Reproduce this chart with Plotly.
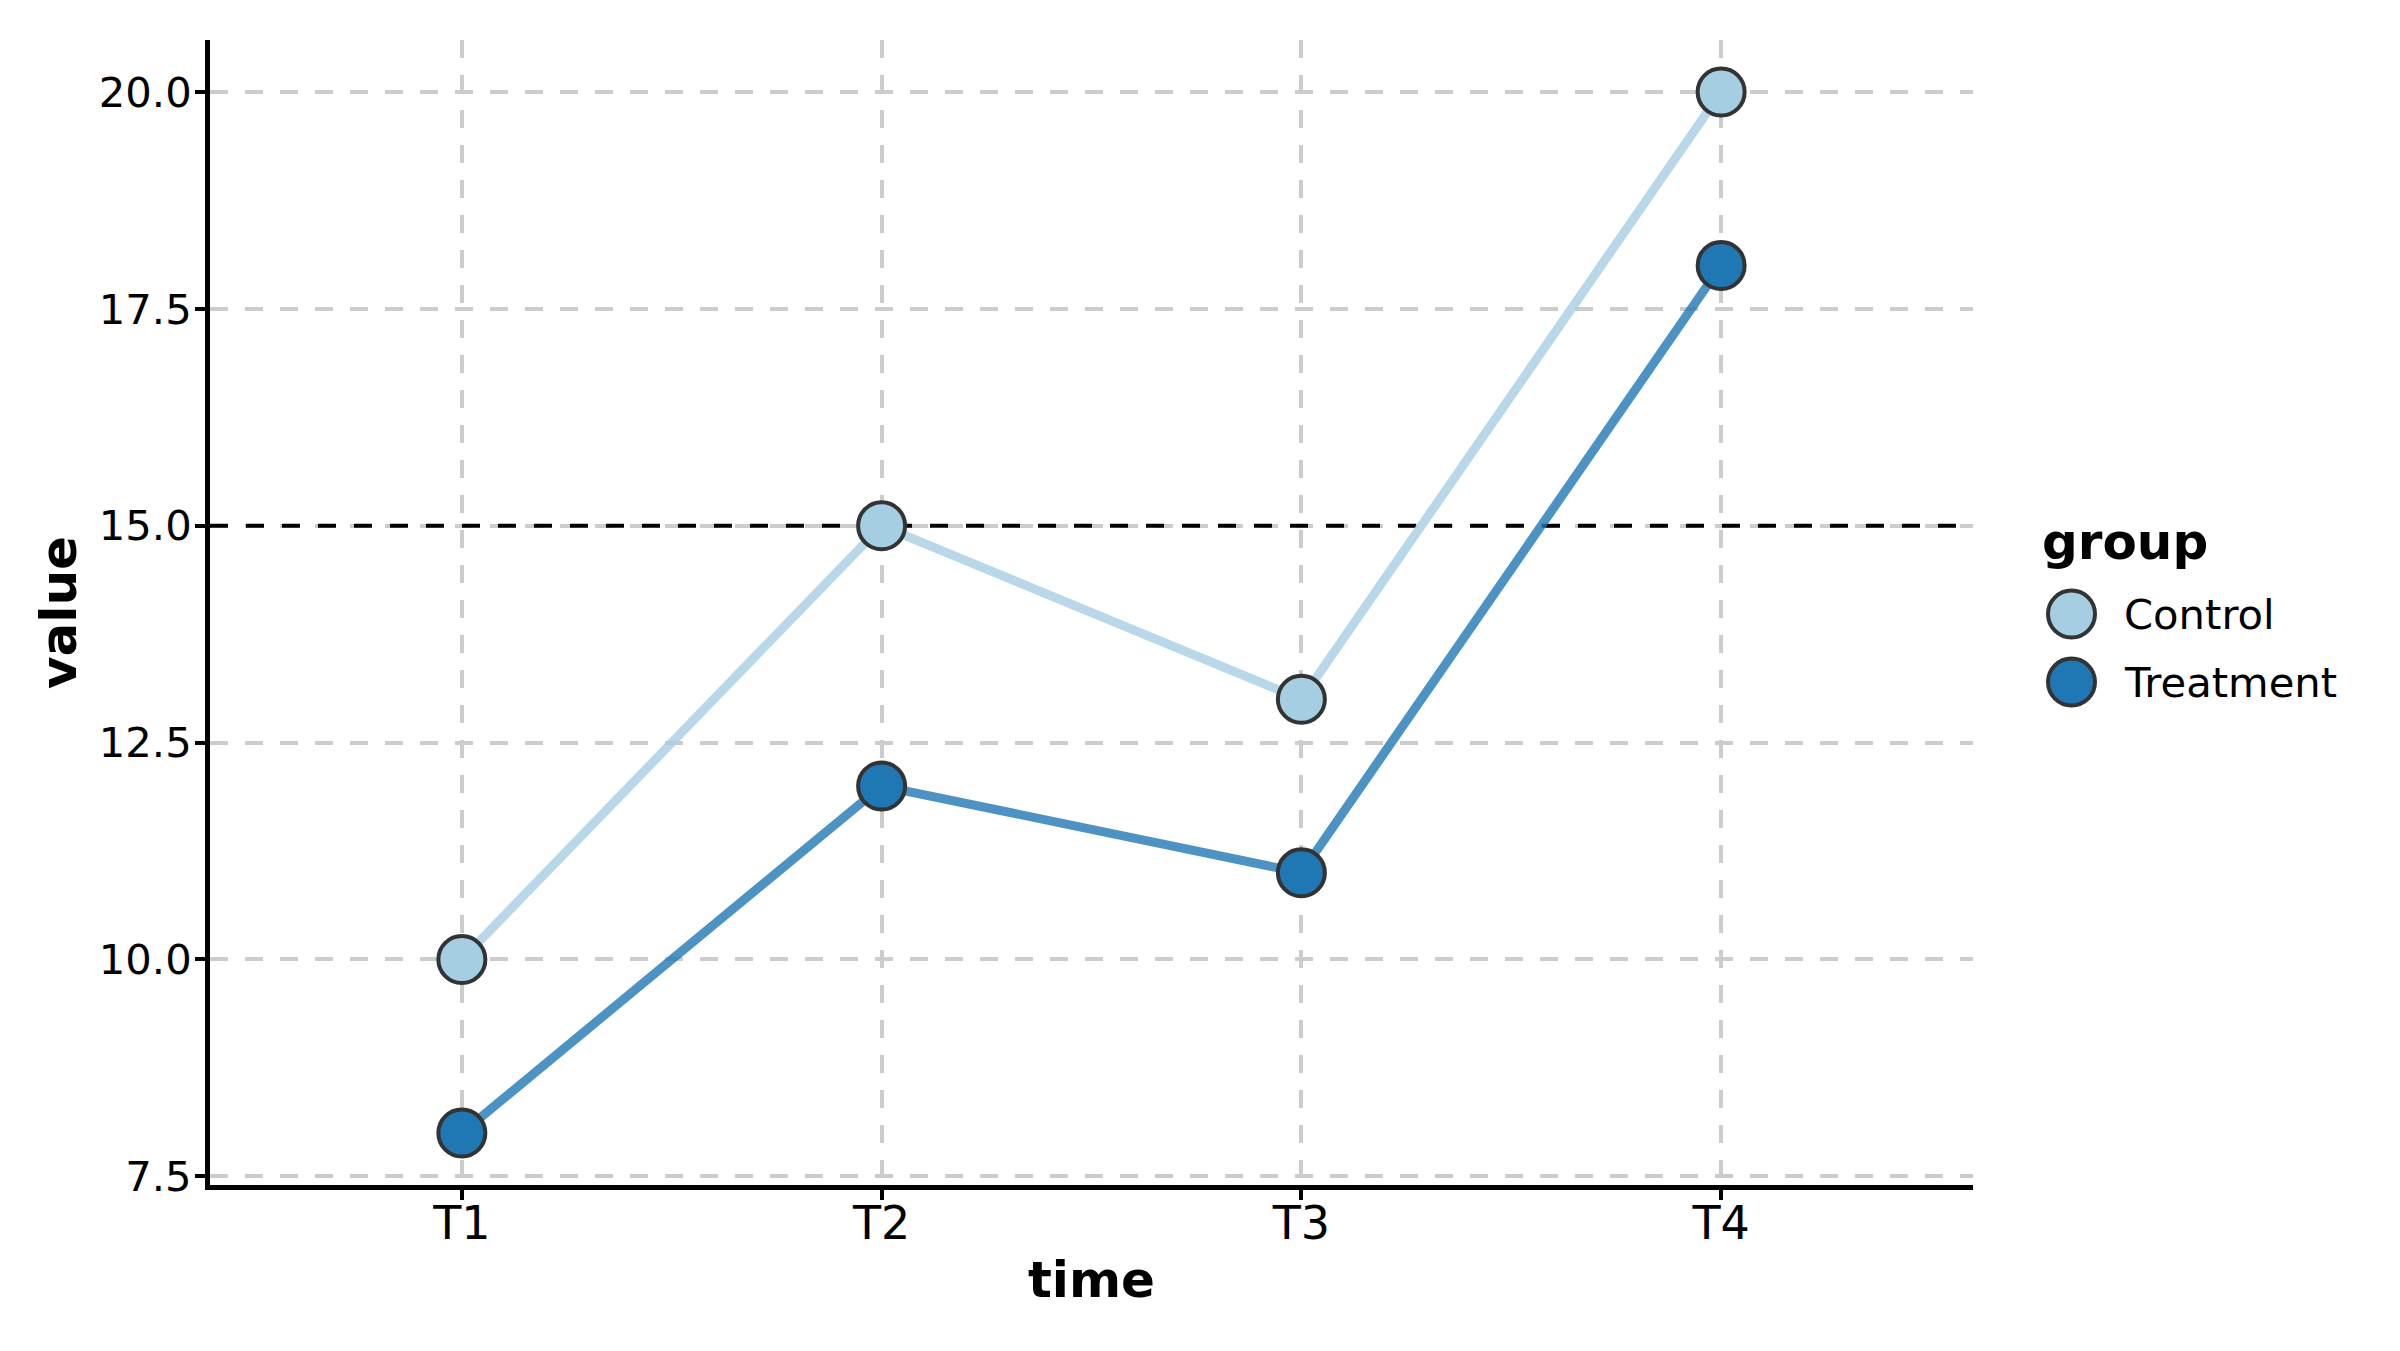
import plotly.graph_objects as go

# ---- data ----
time_points = ["T1", "T2", "T3", "T4"]
control_values = [10, 15, 13, 20]
treatment_values = [8, 12, 11, 18]
group_names = ["Control", "Treatment"]
y_tick_values = [7.5, 10.0, 12.5, 15.0, 17.5, 20.0]
reference_value = 15

# ---- style ----
FONT = "DejaVu Sans"
W, H = 2400, 1351
OFF = 8  # page body margin in the browser
ML, MR, MT, MB = 210 - OFF, 427 + OFF, 40 - OFF, 166 + OFF
X_RANGE = [-0.6, 3.6]
Y_RANGE = [7.4, 20.6]
marker_fill = ["#a6cee3", "#1f78b4"]
line_rgba = ["rgba(166,206,227,0.8)", "rgba(31,120,180,0.8)"]
edge = "#333333"
grid_color = "#cccccc"

fig = go.Figure()
for name, vals, fill, lc in zip(group_names, [control_values, treatment_values], marker_fill, line_rgba):
    fig.add_trace(go.Scatter(
        x=time_points, y=vals, name=name, mode="lines+markers",
        line=dict(color=lc, width=9),
        marker=dict(size=47, color=fill, line=dict(color=edge, width=4)),
        showlegend=False,
    ))

# reference line (between gridlines and data)
fig.add_shape(type="line", xref="x", x0=X_RANGE[0], x1=X_RANGE[1], yref="y",
              y0=reference_value, y1=reference_value,
              line=dict(color="black", width=4, dash="18px,18px"), layer="between")

axis_common = dict(
    showline=True, linecolor="black", linewidth=5,
    ticks="outside", ticklen=10, tickwidth=4, tickcolor="black",
    showgrid=True, gridcolor=grid_color, gridwidth=3.5, griddash="18px,17px",
    zeroline=False,
)

fig.update_xaxes(
    **axis_common,
    type="category", categoryorder="array", categoryarray=time_points,
    range=X_RANGE,
    tickfont=dict(family=FONT, size=46, color="black"),
    ticklabelstandoff=-16,
    title=dict(text="<b>time</b>", font=dict(family=FONT, size=50, color="black"), standoff=14),
)
fig.update_yaxes(
    **axis_common,
    range=Y_RANGE,
    tickmode="array", tickvals=y_tick_values, ticktext=[f"{v:.1f}" for v in y_tick_values],
    tickfont=dict(family=FONT, size=41.7, color="black"),
    ticklabelstandoff=-5,
    title=dict(text="<b>value</b>", font=dict(family=FONT, size=50, color="black"), standoff=8),
)

# ---- manual legend (large markers as in reference) ----
pw = W - ML - MR
ph = H - MT - MB
def px_to_paper(xp, yp):
    xp -= OFF
    yp -= OFF
    return (xp - ML) / pw, 1 - (yp - MT) / ph

annotations = []
tx, ty = px_to_paper(2040, 542)
annotations.append(dict(x=tx, y=ty, xref="paper", yref="paper", text="<b>group</b>", showarrow=False,
                        xanchor="left", yanchor="middle", font=dict(family=FONT, size=50, color="black")))
legend_rows = [614, 682]
for name, fill, yrow in zip(group_names, marker_fill, legend_rows):
    mx, my = px_to_paper(2071.5, yrow)
    fig.add_shape(type="circle", xref="paper", yref="paper", xsizemode="pixel", ysizemode="pixel",
                  xanchor=mx, yanchor=my, x0=-23.5, x1=23.5, y0=-23.5, y1=23.5,
                  fillcolor=fill, line=dict(color=edge, width=4), layer="above")
    lx, ly = px_to_paper(2122, yrow)
    annotations.append(dict(x=lx, y=ly, xref="paper", yref="paper", text=name, showarrow=False,
                            xanchor="left", yanchor="middle", font=dict(family=FONT, size=41.7, color="black")))

fig.update_layout(
    width=W, height=H,
    margin=dict(l=ML, r=MR, t=MT, b=MB),
    paper_bgcolor="white", plot_bgcolor="white",
    font=dict(family=FONT, color="black"),
    showlegend=False,
    annotations=annotations,
)

fig.write_html("out.html")
